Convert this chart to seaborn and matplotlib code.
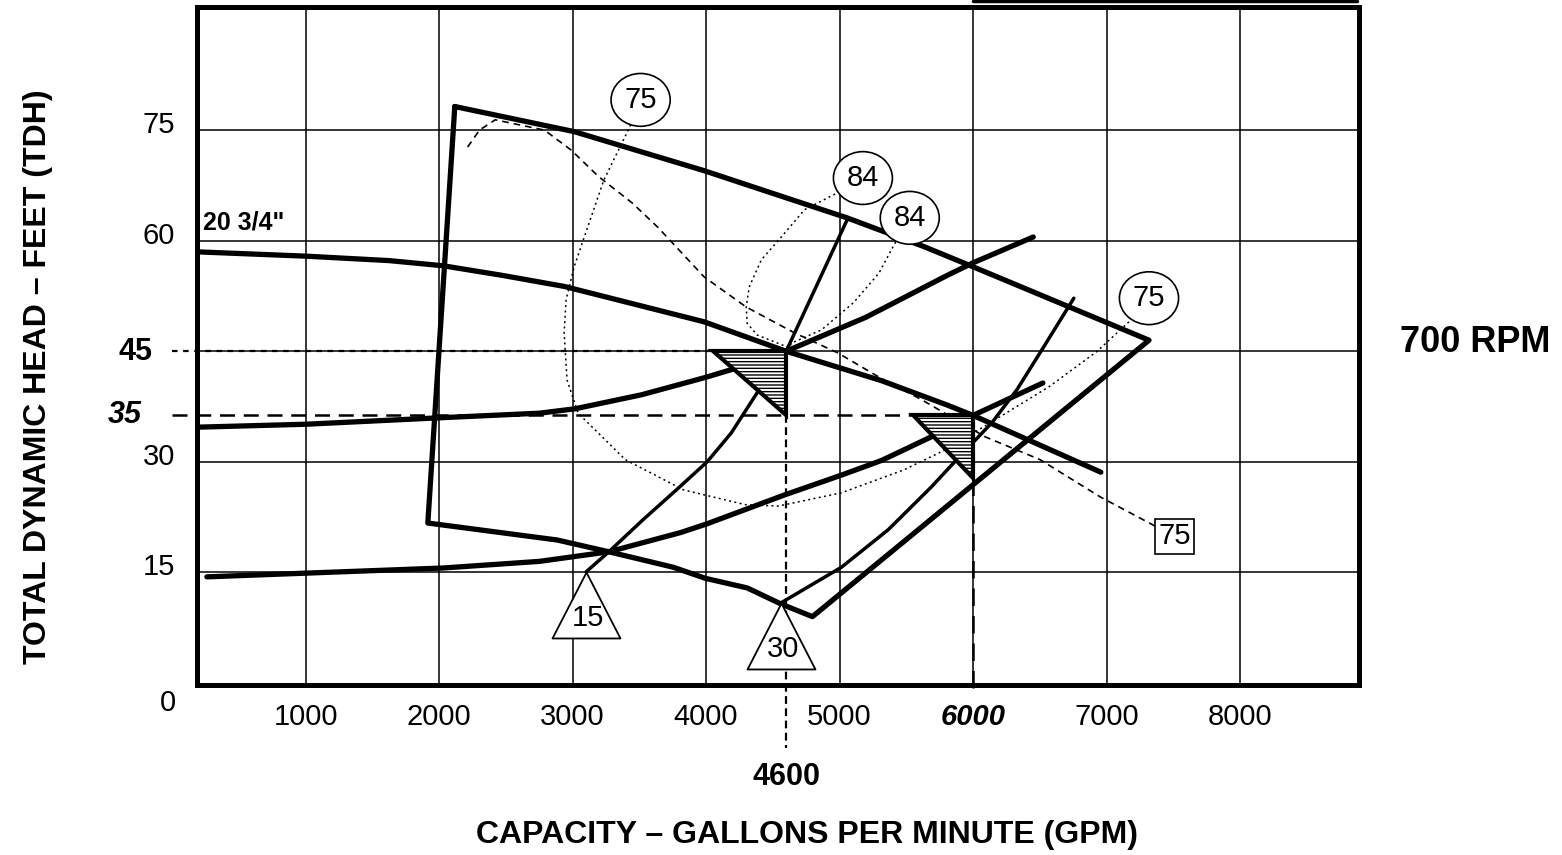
import matplotlib
matplotlib.use('Agg')
import matplotlib.pyplot as plt
import seaborn as sns
from matplotlib.path import Path
from matplotlib.lines import Line2D

# ---- values (GPM, feet of head) ----
# 20 3/4" impeller head curve
head_gpm = [169, 1004, 1625, 2030, 2472, 2937, 3985, 4600, 5316, 5807, 6000, 6957]
head_ft = [58.5, 57.9, 57.3, 56.6, 55.3, 53.8, 49.0, 45.0, 41.0, 37.7, 36.3, 28.6]

# system curves
sys1_gpm = [184, 1000, 2030, 2752, 3019, 3517, 3985, 4188, 4600, 5196, 5807, 6000, 6451]
sys1_ft = [34.7, 35.1, 36.0, 36.6, 37.2, 39.1, 41.4, 42.5, 45.0, 49.6, 55.3, 57.0, 60.5]
sys2_gpm = [261, 2030, 2752, 3272, 3808, 4008, 4586, 5014, 5316, 5688, 6000, 6523]
sys2_ft = [14.4, 15.6, 16.5, 17.8, 20.4, 21.6, 25.5, 28.2, 30.2, 33.4, 36.3, 40.7]

# operating envelope
env_gpm = [2118, 3011, 3985, 4586, 5056, 5632, 5968, 7318,
           4797, 4564, 4308, 3995, 3755, 3272, 2885, 1916, 2118]
env_ft = [78.2, 74.8, 69.5, 65.9, 63.1, 59.2, 56.7, 46.5,
          9.0, 10.7, 12.9, 14.2, 15.7, 17.8, 19.4, 21.7, 78.2]

# lines ending in the triangle markers (15 and 30)
l15_gpm = [3103, 3272, 3525, 3778, 4008, 4188, 4391, 4600, 5056]
l15_ft = [15.1, 17.8, 22.1, 26.2, 30.0, 33.9, 39.6, 45.0, 62.8]
l30_gpm = [4564, 5014, 5365, 5688, 5898, 6141, 6329, 6502, 6755]
l30_ft = [10.9, 15.7, 20.8, 26.6, 30.7, 35.3, 39.8, 44.8, 52.2]

# efficiency contours
eff75_gpm = [3510, 3425, 3234, 3088, 3011, 2952, 2937, 2959, 3042, 3395, 3831,
             4291, 4541, 5014, 5480, 5789, 6120, 6570, 6930, 7180, 7318]
eff75_ft = [79.1, 75.3, 68.2, 60.5, 56.4, 52.0, 47.5, 41.1, 36.6, 30.3, 26.2,
            24.2, 24.0, 25.8, 28.9, 31.6, 35.2, 40.2, 45.0, 49.2, 52.2]
eff84_gpm = [5175, 4985, 4737, 4564, 4414, 4323, 4301, 4308, 4383, 4564, 4624,
             4639, 4865, 5105, 5295, 5407, 5526]
eff84_ft = [68.5, 66.5, 64.2, 60.5, 57.4, 53.7, 51.0, 48.8, 47.2, 45.9, 45.5,
            46.1, 47.9, 51.6, 55.6, 59.4, 63.1]
box75_gpm = [2214, 2303, 2421, 2790, 2989, 3195, 3448, 3640, 3985, 4301,
             4662, 4985, 5295, 5618, 6090, 6502, 6957, 7508]
box75_ft = [72.7, 75.0, 76.4, 75.0, 72.3, 68.7, 65.1, 61.8, 55.1, 51.0,
            47.5, 44.8, 41.5, 38.4, 33.4, 30.3, 25.2, 19.9]

# operating points (hatched triangles)
op_gpm = [4600, 6000]
op_ft = [45.0, 36.3]
op_left_gpm = [4050, 5550]
op_bottom_ft = [36.3, 27.8]
op_labels = ['45', '35']

# labels
circle_gpm = [3510, 7318, 5175, 5526]
circle_ft = [79.1, 52.2, 68.5, 63.1]
circle_txt = ['75', '75', '84', '84']
tri_gpm = [3103, 4564]
tri_ft = [15.1, 10.9]
tri_txt = ['15', '30']

xticks = [1000, 2000, 3000, 4000, 5000, 6000, 7000, 8000]
yticks = [15, 30, 45, 60, 75]
ytick_labels = ['15', '30', '', '60', '75']

sns.set_theme(style='white')
plt.rcParams['font.family'] = ['Liberation Sans', 'DejaVu Sans']
plt.rcParams.update({'text.color': 'black', 'axes.labelcolor': 'black',
                     'xtick.color': 'black', 'ytick.color': 'black'})

fig = plt.figure(figsize=(15.62, 8.55), dpi=100)
ax = fig.add_axes([197 / 1562, 1 - 685 / 855, 1162 / 1562, 678 / 855])
ax.set_xlim(187, 8891)
ax.set_ylim(-0.27, 91.7)


def curve(x, y, lw, ls='-', z=3):
    sns.lineplot(x=x, y=y, ax=ax, color='black', linewidth=lw, linestyle=ls,
                 sort=False, estimator=None, zorder=z,
                 solid_joinstyle='round', dash_joinstyle='round')


curve(head_gpm, head_ft, 3.8)
curve(sys1_gpm, sys1_ft, 3.8)
curve(sys2_gpm, sys2_ft, 3.8)
curve(env_gpm, env_ft, 3.8)
curve(l15_gpm, l15_ft, 2.5)
curve(l30_gpm, l30_ft, 2.5)
curve(eff75_gpm, eff75_ft, 1.1, (0, (1.3, 2.2)))
curve(eff84_gpm, eff84_ft, 1.1, (0, (1.3, 2.2)))
curve(box75_gpm, box75_ft, 1.2, (0, (4, 3)))

# reference lines to the axes
ax.plot([0, op_left_gpm[0]], [op_ft[0]] * 2, color='black', lw=1.6,
        ls=(0, (2.5, 2.5)), clip_on=False, zorder=3)
ax.plot([0, op_left_gpm[1]], [op_ft[1]] * 2, color='black', lw=1.8,
        ls=(0, (6, 3.5)), clip_on=False, zorder=3)
ax.plot([op_gpm[0]] * 2, [op_bottom_ft[0], -8.8], color='black', lw=1.6,
        ls=(0, (3.5, 2)), clip_on=False, zorder=3)
ax.plot([op_gpm[1]] * 2, [op_bottom_ft[1], -1.9], color='black', lw=1.8,
        ls=(0, (7, 4)), clip_on=False, zorder=3)

# hatched operating point triangles
for xr, xl, yt, yb in zip(op_gpm, op_left_gpm, op_ft, op_bottom_ft):
    ax.fill([xl, xr, xr], [yt, yt, yb], facecolor='white', edgecolor='black',
            hatch='-----', lw=3, zorder=4)

# open triangles with apex on the line ends
tri_marker = Path([(0, 0), (-0.515, -1), (0.515, -1), (0, 0)], closed=True)
ax.plot(tri_gpm, tri_ft, ls='none', marker=tri_marker, ms=95,
        mfc='white', mec='black', mew=1.3, zorder=5, clip_on=False)
for x, y, t in zip(tri_gpm, tri_ft, tri_txt):
    ax.annotate(t, xy=(x, y), xytext=(2, -46), textcoords='offset pixels',
                ha='center', va='center', fontsize=21, zorder=6)

for x, y, t in zip(circle_gpm, circle_ft, circle_txt):
    ax.text(x, y, t, ha='center', va='center', fontsize=21, zorder=6,
            bbox=dict(boxstyle='ellipse,pad=0.16', fc='white', ec='black', lw=1.2))
ax.text(box75_gpm[-1], box75_ft[-1], '75', ha='center', va='center',
        fontsize=21, zorder=6,
        bbox=dict(boxstyle='square,pad=0.12', fc='white', ec='black', lw=1.2))

ax.text(230, 62.5, '20 3/4"', ha='left', va='center', fontsize=18,
        fontweight='bold')

# axes, grid, ticks
ax.set_xticks(xticks)
ax.set_xticklabels([str(v) for v in xticks], fontsize=21)
ax.get_xticklabels()[5].set_fontweight('bold')
ax.get_xticklabels()[5].set_fontstyle('italic')
ax.set_yticks(yticks)
ax.set_yticklabels([])
ax.tick_params(axis='both', length=0)
ax.tick_params(axis='x', pad=13)
ax.grid(True, color='black', lw=1.1)
ax.set_axisbelow(True)
for s in ax.spines.values():
    s.set_color('black')
    s.set_linewidth(3.6)
ax.set_xlabel('')
ax.set_ylabel('')

ytr = ax.get_yaxis_transform()
for y, t in zip(yticks, ytick_labels):
    if t:
        ax.annotate(t, xy=(0, y), xycoords=ytr, xytext=(-22, 5),
                    textcoords='offset pixels', ha='right', va='center',
                    fontsize=21)
ax.annotate(op_labels[0], xy=(0, op_ft[0]), xycoords=ytr, xytext=(-45, -1),
            textcoords='offset pixels', ha='right', va='center', fontsize=22,
            fontweight='bold')
ax.annotate(op_labels[1], xy=(0, op_ft[1]), xycoords=ytr, xytext=(-55, 0),
            textcoords='offset pixels', ha='right', va='center', fontsize=22,
            fontweight='bold', fontstyle='italic')
ax.annotate('0', xy=(0, 0), xycoords='axes fraction', xytext=(-29, -18),
            textcoords='offset pixels', ha='center', va='center', fontsize=21)
ax.text(op_gpm[0], -12.8, '4600', ha='center', va='center', fontsize=22,
        fontweight='bold')

fig.text(807 / 1562, 1 - 835 / 855, 'CAPACITY – GALLONS PER MINUTE (GPM)',
         ha='center', va='center', fontsize=23, fontweight='bold')
fig.text(38 / 1562, 1 - 377 / 855, 'TOTAL DYNAMIC HEAD – FEET (TDH)',
         ha='center', va='center', fontsize=23, fontweight='bold', rotation=90)
fig.text(1475 / 1562, 1 - 343 / 855, '700 RPM', ha='center', va='center',
         fontsize=26, fontweight='bold')

# edge of the box cut off above the chart
fig.add_artist(Line2D([973 / 1562, 1357 / 1562], [1 - 1.5 / 855] * 2,
                      transform=fig.transFigure, color='black', lw=2.5))

fig.savefig('out.png', dpi=100)
